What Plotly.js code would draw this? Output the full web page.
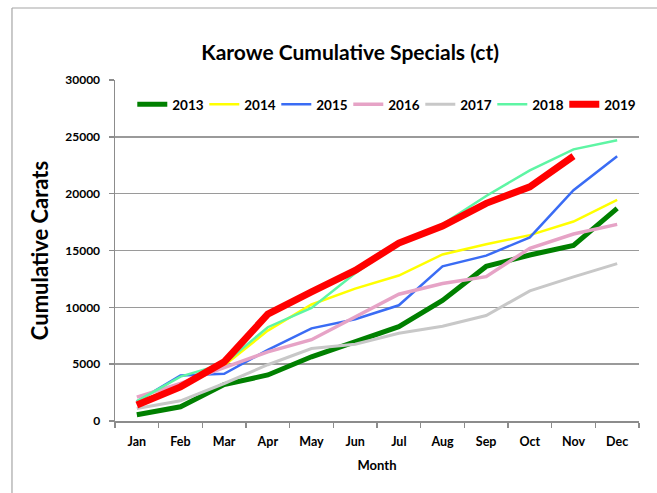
<!DOCTYPE html>
<html>
<head>
<meta charset="utf-8">
<script src="https://cdn.plot.ly/plotly-3.0.1.min.js"></script>
<style>html,body{margin:0;padding:0;background:#fff;}#chart{width:657px;height:493px;}</style>
</head>
<body>
<div id="chart"></div>
<script>
const months = ["Jan","Feb","Mar","Apr","May","Jun","Jul","Aug","Sep","Oct","Nov","Dec"];
const y2013 = [550, 1250, 3200, 4050, 5650, 6950, 8300, 10600, 13600, 14600, 15450, 18700];
const y2014 = [1600, 3200, 4900, 7950, 10250, 11650, 12800, 14650, 15550, 16350, 17550, 19450];
const y2015 = [1700, 4000, 4150, 6250, 8150, 8950, 10180, 13600, 14550, 16150, 20300, 23300];
const y2016 = [2100, 3300, 4700, 6080, 7150, 9150, 11150, 12100, 12700, 15200, 16450, 17300];
const y2017 = [1100, 1780, 3300, 4950, 6380, 6750, 7720, 8330, 9280, 11450, 12680, 13850];
const y2018 = [1750, 3900, 5050, 8250, 9950, 13000, 15600, 17300, 19800, 22050, 23900, 24700];
const y2019 = [1400, 3000, 5200, 9400, 11350, 13250, 15650, 17150, 19150, 20600, 23300];

const seriesNames = ["2013","2014","2015","2016","2017","2018","2019"];
const seriesData = [y2013, y2014, y2015, y2016, y2017, y2018, y2019];
const colors = ["#008000","#FFFF00","#3A6CF4","#E6A3C6","#C8C8C8","#5EF5A4","#FF0000"];
const widths = [5, 2.5, 2.5, 3.5, 3, 2.5, 7];

const traces = seriesNames.map((n, i) => ({
  type: "scatter", mode: "lines", name: n,
  x: months.slice(0, seriesData[i].length), y: seriesData[i],
  line: {color: colors[i], width: widths[i], shape: "linear"},
  hoverinfo: "x+y+name"
}));

const font = "Lato, 'Open Sans', 'DejaVu Sans', sans-serif";
const layout = {
  width: 657, height: 493,
  margin: {l: 115, r: 18, t: 80, b: 72},
  paper_bgcolor: "#fff", plot_bgcolor: "#fff",
  font: {family: font, color: "#000"},
  title: {text: "<b>Karowe Cumulative Specials (ct)</b>", font: {size: 21, family: font, color: "#000"},
          x: 0.533, xanchor: "center", y: 0.893, yanchor: "middle"},
  showlegend: true,
  legend: {orientation: "h", x: 0.033, xanchor: "left", y: 0.928, yanchor: "middle",
           font: {size: 13.5, family: font, color: "#000", weight: "bold"},
           bgcolor: "rgba(0,0,0,0)", itemwidth: 30, traceorder: "normal",
           entrywidth: 27, entrywidthmode: "pixels", tracegroupgap: 0},
  xaxis: {
    type: "category", categoryorder: "array", categoryarray: months,
    title: {text: "<b>Month</b>", font: {size: 13, family: font, color: "#000"}, standoff: 13},
    tickfont: {size: 12.5, family: font, color: "#000", weight: "bold"},
    showline: true, linecolor: "#8c8c8c", linewidth: 1.5,
    ticks: "outside", tickson: "boundaries", ticklen: 5, tickcolor: "#8c8c8c", tickwidth: 1.5,
    ticklabelstandoff: 8,
    showgrid: false, zeroline: false, range: [-0.5, 11.5], fixedrange: true
  },
  yaxis: {
    title: {text: "<b>Cumulative Carats</b>", font: {size: 22, family: font, color: "#000"}, standoff: 10},
    range: [0, 30000], dtick: 5000, tickformat: "d",
    tickfont: {size: 12, family: font, color: "#000", weight: "bold"},
    showline: true, linecolor: "#8c8c8c", linewidth: 1.5,
    ticks: "outside", ticklen: 5, tickcolor: "#8c8c8c", tickwidth: 1.5,
    ticklabelstandoff: 6,
    showgrid: true, gridcolor: "#9a9a9a", gridwidth: 1.5,
    zeroline: false, fixedrange: true
  },
  shapes: [
    {type: "line", xref: "paper", yref: "paper", x0: -0.1966, x1: -0.1966, y0: 1.2111, y1: -0.22,
     line: {color: "#a6a6a6", width: 1.2}},
    {type: "line", xref: "paper", yref: "paper", x0: -0.1966, x1: 1.04, y0: 1.2111, y1: 1.2111,
     line: {color: "#a6a6a6", width: 1.2}}
  ]
};

Plotly.newPlot("chart", traces, layout, {displayModeBar: false, staticPlot: true});
</script>
</body>
</html>
